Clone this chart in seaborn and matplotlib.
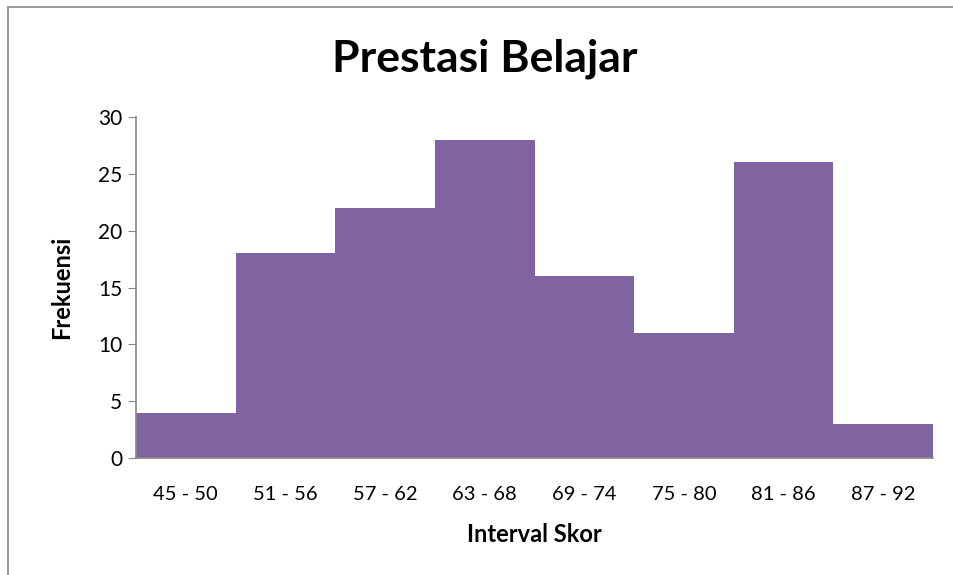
import matplotlib.pyplot as plt
import seaborn as sns
import pandas as pd

# Data
intervals = ["45 - 50", "51 - 56", "57 - 62", "63 - 68", "69 - 74", "75 - 80", "81 - 86", "87 - 92"]
frekuensi = [4, 18, 22, 28, 16, 11, 26, 3]

df = pd.DataFrame({"Interval": intervals, "Frekuensi": frekuensi})

sns.set_style("white")
plt.rcParams["font.family"] = ["Lato", "DejaVu Sans"]
plt.rcParams["text.color"] = "black"
plt.rcParams["xtick.color"] = "black"
plt.rcParams["ytick.color"] = "black"
plt.rcParams["axes.labelcolor"] = "black"

fig = plt.figure(figsize=(9.54, 5.75), dpi=100)
ax = fig.add_axes([0.1426, 0.2035, 0.8354, 0.593])

sns.barplot(data=df, x="Interval", y="Frekuensi", color="#8064A2", saturation=1,
            width=1.0, linewidth=0, edgecolor="#8064A2", ax=ax)

ax.set_ylim(0, 30)
ax.set_yticks([0, 5, 10, 15, 20, 25, 30])
ax.set_xlim(-0.5, len(intervals) - 0.5)
ax.tick_params(axis="y", left=True, length=6, color="#888888", labelsize=15, pad=4)
ax.tick_params(axis="x", bottom=False, labelsize=14.5, pad=17)
for s in ["top", "right"]:
    ax.spines[s].set_visible(False)
for s in ["left", "bottom"]:
    ax.spines[s].set_color("#888888")
    ax.spines[s].set_linewidth(1.2)

ax.set_xlabel("Interval Skor", fontsize=17, fontweight="bold", labelpad=14)
ax.set_ylabel("Frekuensi", fontsize=17, fontweight="bold", labelpad=18)
fig.text(0.508, 0.898, "Prestasi Belajar", ha="center", va="center", fontsize=32, fontweight="bold")

# chart area border
fig.add_artist(plt.Line2D([0.0084, 0.0084], [0, 0.988], color="#888888", lw=1.2))
fig.add_artist(plt.Line2D([0.0084, 1.0], [0.988, 0.988], color="#888888", lw=1.2))

fig.savefig("out.png", dpi=100)
